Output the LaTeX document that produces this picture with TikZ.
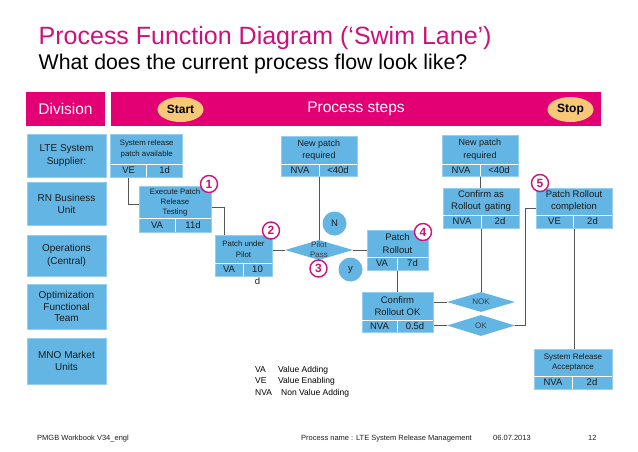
\documentclass[tikz,border=0pt]{standalone}
\usepackage{fontspec}
\setmainfont{Liberation Sans}
\usetikzlibrary{shapes.geometric}
\pgfdeclarelayer{bg}
\pgfsetlayers{bg,main}
\definecolor{mag}{RGB}{226,0,116}
\definecolor{magt}{RGB}{204,18,122}
\definecolor{lblue}{RGB}{99,181,228}
\definecolor{lborder}{RGB}{150,206,238}
\definecolor{ovalc}{RGB}{247,200,120}
\definecolor{connc}{RGB}{85,85,85}
\definecolor{txt}{RGB}{28,28,28}
\newcommand\fsz[2]{\fontsize{#1pt}{#2pt}\selectfont}
\newcommand\pfont{\fsz{9.5}{12}}
\newcommand\procbox[9]{%
  \node[pbox, minimum width={(#4-#2)*1pt}, minimum height={(#5-#3)*1pt}] (#1) at ({(#2+#4)/2},{(#3+#5)/2}) {};
  \node[ptext] (#1-t) at ({(#2+#4)/2},{(#3+#6)/2}) {#8};
  \draw[white, line width=0.9pt] (#2,#6) -- (#4,#6) (#7,#6) -- (#7,#5);
  \def\pbA{#2}\def\pbB{#4}\def\pbS{#7}\def\pbY{#6+#5}%
  \procells{#1}#9}
\newcommand\procells[3]{%
  \node[ctext] (#1-l) at ({(\pbA+\pbS)/2},{(\pbY)/2}) {#2};
  \node[ctext] (#1-r) at ({(\pbS+\pbB)/2},{(\pbY)/2}) {#3};}
\tikzset{
  lane/.style={fill=lblue, draw=lborder, line width=0.6pt, inner sep=0pt, align=center, text=txt, font=\fsz{10}{12.3}, minimum width=79pt},
  pbox/.style={fill=lblue, draw=lborder, line width=0.6pt, inner sep=0pt},
  ptext/.style={inner sep=0pt, align=center, text=txt, font=\pfont},
  ctext/.style={inner sep=0pt, text=txt, font=\fsz{9.5}{11}},
  conn/.style={draw=connc, line width=0.8pt},
  numc/.style={circle, draw=magt, fill=white, line width=1.4pt, minimum size=17pt, inner sep=0pt, text=magt, font=\bfseries\fsz{12}{12}},
  bub/.style={circle, fill=lblue, minimum size=24pt, inner sep=0pt, text=txt, font=\fsz{9.5}{10}},
  dia/.style={diamond, fill=lblue, inner sep=0pt, minimum width=68pt, minimum height=20pt},
  diatext/.style={inner sep=0pt, align=center, text=txt!85, font=\fsz{8}{9.5}},
  hdr/.style={fill=mag, inner sep=0pt, minimum height=34pt, text=white, font=\fsz{15.5}{16}},
  ovl/.style={ellipse, fill=ovalc, inner sep=0pt, minimum width=46pt, minimum height=25pt, text=black, font=\bfseries\fsz{12}{12}},
  leg/.style={inner sep=0pt, anchor=base west, text=black, font=\fsz{8.5}{10}},
  foot/.style={inner sep=0pt, anchor=base west, text=txt, font=\fsz{7.5}{9}}
}
\begin{document}
\begin{tikzpicture}[x=1pt,y=-1pt]
\useasboundingbox (0,0) rectangle (638,451);
% titles
\node[anchor=base west, inner sep=0pt, text=magt, font=\fsz{25}{25}] (title) at (38.5,44) {Process Function Diagram (‘Swim Lane’)};
\node[anchor=base west, inner sep=0pt, text=black, font=\fsz{21.3}{22}] (subtitle) at (38.5,69) {What does the current process flow look like?};
% header
\node[hdr, minimum width=79pt] (div) at (65.5,109) {Division};
\node[hdr, minimum width=490pt] (bar) at (356,109) {Process steps};
\node[ovl] (start) at (180.5,109.5) {Start};
\node[ovl] (stop) at (570.5,109.5) {Stop};
% lanes
\node[lane, minimum height=43pt] (l1) at (66.5,155.5) {LTE System\\Supplier:};
\node[lane, minimum height=43pt] (l2) at (66.5,204) {RN Business\\Unit};
\node[lane, minimum height=41pt] (l3) at (66.5,255.5) {Operations\\(Central)};
\node[lane, minimum height=45pt, font=\fsz{10}{11.7}] (l4) at (66.5,306.5) {Optimization\\Functional\\Team};
\node[lane, minimum height=46pt] (l5) at (66.5,361) {MNO Market\\Units};
% process boxes
\renewcommand\pfont{\fsz{7.8}{10.8}}
\procbox{b1}{110.7}{134}{182.7}{177}{164}{146.7}{System release\\patch available}{{VE}{1d}}
\renewcommand\pfont{\fsz{7.8}{10}}
\procbox{b2}{139}{186}{211}{232}{218}{175}{Execute Patch\\Release\\Testing}{{VA}{11d}}
\renewcommand\pfont{\fsz{7.8}{10.8}}
\procbox{b3}{215}{235}{272}{276}{263}{243}{Patch under\\Pilot}{{VA}{10}}
\node[ctext] (b3-d) at (257.5,281) {d};
\renewcommand\pfont{\fsz{9}{12.5}}
\procbox{b4}{281}{136}{357}{176}{164}{319}{New patch\\required}{{NVA}{<40d}}
\renewcommand\pfont{\fsz{9.5}{12.3}}
\procbox{b5}{367}{230}{428}{270}{257}{397}{Patch\\Rollout}{{VA}{7d}}
\procbox{b6}{362}{292}{433}{332}{320}{397}{Confirm\\Rollout OK}{{NVA}{0.5d}}
\renewcommand\pfont{\fsz{9}{12.5}}
\procbox{b7}{442}{135}{518}{176}{164}{480}{New patch\\required}{{NVA}{<40d}}
\renewcommand\pfont{\fsz{9.5}{12}}
\procbox{b8}{443}{188}{519}{228}{215}{481}{Confirm as\\Rollout\, gating}{{NVA}{2d}}
\procbox{b9}{536}{188}{612}{228}{215}{573}{Patch Rollout\\completion}{{VE}{2d}}
\renewcommand\pfont{\fsz{8}{10.5}}
\procbox{b10}{534}{349}{612}{389}{376}{572}{System Release\\Acceptance}{{NVA}{2d}}
% decisions
\node[dia] (d1) at (319,250) {};
\node[diatext] (d1-t) at (319,249.5) {Pilot\\Pass};
\node[dia] (d2) at (481,302) {};
\node[diatext] (d2-t) at (481,302) {NOK};
\node[dia, minimum height=21pt] (d3) at (481,325.5) {};
\node[diatext] (d3-t) at (481,325.5) {OK};
% bubbles
\node[bub] (bn) at (334.5,223.5) {N};
\node[bub] (by) at (350.5,269.5) {y};
% connectors
\coordinate (k2) at (224,235);
\coordinate (k11) at (525,0);
\begin{pgfonlayer}{bg}
\draw[conn] (b1.south -| b1-l) |- ([yshift=5pt]b2.west);
\draw[conn] ([yshift=2pt]b2.east) -| (k2);
\draw[conn] (d1.west) -- (d1.west -| b3.east);
\draw[conn] (b4.south) -- (d1.north);
\draw[conn] (d1.east) -- (d1.east -| b5.west);
\draw[conn] (b5.south) -- (b6.north);
\draw[conn] (d2.west) -- (d2.west -| b6.east);
\draw[conn] (d3.west) -- (d3.west -| b6.east);
\draw[conn] (b7.south) -- (b7.south |- b8.north);
\draw[conn] (b8.south -| d2.north) -- (d2.north);
\draw[conn] (d3.east) -| (k11 |- b9.west) -- (b9.west);
\draw[conn] (b9.south) -- (b9.south |- b10.north);
\end{pgfonlayer}
% step numbers
\node[numc] (n1) at (209,184) {1};
\node[numc] (n2) at (271,230.5) {2};
\node[numc] (n3) at (318.5,268.5) {3};
\node[numc] (n4) at (423,232) {4};
\node[numc] (n5) at (540,183) {5};
% legend
\node[leg] (lg1) at (255,372) {VA};
\node[leg] (lg1v) at (278,372) {Value Adding};
\node[leg] (lg2) at (255,383.7) {VE};
\node[leg] (lg2v) at (278,383.7) {Value Enabling};
\node[leg] (lg3) at (255,395.4) {NVA};
\node[leg] (lg3v) at (281,395.4) {Non Value Adding};
% footer
\node[foot] (f1) at (37,440) {PMGB Workbook V34\_engl};
\node[foot] (f2) at (301,440) {Process name : LTE System Release Management};
\node[foot] (f3) at (493,440) {06.07.2013};
\node[foot] (f4) at (588,440) {12};
\end{tikzpicture}
\end{document}
